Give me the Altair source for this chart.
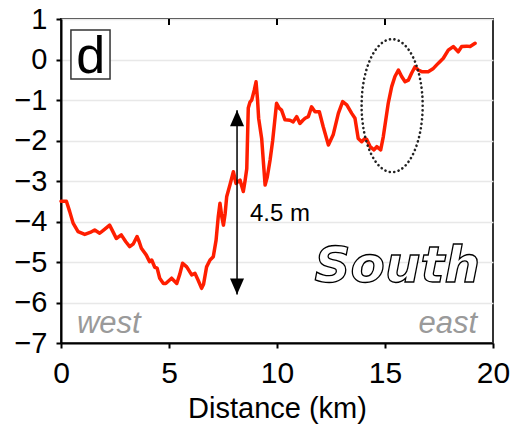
import altair as alt
import pandas as pd

# ---- profile data (distance km, elevation m) ----
dist_km = [0.0, 0.25, 0.4, 0.56, 0.79, 1.1, 1.35, 1.56, 1.79, 2.0, 2.25, 2.45, 2.56, 2.79, 3.0,
           3.18, 3.35, 3.52, 3.62, 3.72, 3.95, 4.1, 4.2, 4.34, 4.45, 4.57, 4.74, 4.85, 5.12, 5.36,
           5.5, 5.63, 5.82, 6.05, 6.2, 6.35, 6.51, 6.6, 6.74, 6.9, 7.05, 7.18, 7.28, 7.36, 7.45,
           7.52, 7.6, 7.67, 7.82, 7.98, 8.1, 8.29, 8.44, 8.52, 8.6, 8.67, 8.75, 8.83, 8.95, 9.03,
           9.1, 9.15, 9.29, 9.38, 9.45, 9.55, 9.68, 9.8, 9.9, 9.98, 10.1, 10.21, 10.37, 10.6, 10.75,
           10.91, 11.06, 11.2, 11.3, 11.45, 11.6, 11.76, 11.96, 12.14, 12.38, 12.6, 12.84, 13.04,
           13.23, 13.46, 13.61, 13.76, 13.92, 14.07, 14.15, 14.31, 14.49, 14.62, 14.8, 14.92, 15.15,
           15.31, 15.46, 15.62, 15.77, 15.93, 16.08, 16.23, 16.39, 16.54, 16.7, 17.0, 17.24, 17.47,
           17.7, 17.93, 18.16, 18.39, 18.55, 18.78, 18.94, 19.17]
elev_m = [-3.5, -3.5, -3.75, -4.04, -4.25, -4.32, -4.27, -4.21, -4.29, -4.2, -4.09, -4.3, -4.42,
          -4.33, -4.5, -4.62, -4.55, -4.37, -4.5, -4.66, -4.83, -4.99, -4.95, -5.13, -5.15, -5.4,
          -5.53, -5.53, -5.4, -5.53, -5.3, -5.03, -5.12, -5.32, -5.28, -5.45, -5.65, -5.55, -5.12,
          -4.95, -4.87, -4.46, -3.88, -3.55, -3.9, -4.09, -3.8, -3.39, -3.1, -2.77, -3.06, -2.98,
          -3.26, -3.0, -2.7, -1.2, -1.05, -1.0, -0.75, -0.55, -1.0, -1.45, -1.95, -2.6, -3.1, -2.9,
          -2.48, -2.0, -1.49, -1.08, -1.2, -1.25, -1.49, -1.5, -1.54, -1.41, -1.58, -1.5, -1.45,
          -1.41, -1.17, -1.29, -1.29, -1.66, -2.11, -1.86, -1.33, -1.04, -1.12, -1.33, -1.45, -1.95,
          -2.03, -1.95, -1.97, -2.15, -2.23, -2.15, -2.23, -1.91, -1.08, -0.67, -0.42, -0.26, -0.42,
          -0.55, -0.51, -0.34, -0.18, -0.26, -0.3, -0.3, -0.22, -0.09, 0.03, 0.23, 0.32, 0.19, 0.32,
          0.33, 0.32, 0.4]

x_ticks = [0, 5, 10, 15, 20]
y_ticks = [-7, -6, -5, -4, -3, -2, -1, 0, 1]
top_ticks = [5, 10, 15]

# annotations
arrow_x = [8.15]
arrow_top = [-1.25]
arrow_bottom = [-5.8]
arrow_label = ["4.5 m"]
arrow_label_pos = [8.75, -3.81]
ellipse_center = [15.33, -1.14]
panel_box = [0.46, 2.27, 0.73, -0.48]   # x, x2, y, y2
panel_letter = ["d"]
panel_letter_pos = [1.37, -0.33]
region_label = ["South"]
region_label_pos = [19.4, -5.49]
side_labels = ["west", "east"]
side_label_x = [0.74, 19.26]
side_label_y = [-6.75, -6.75]

df = pd.DataFrame({"d": dist_km, "z": elev_m})

xs = alt.Scale(domain=[0, 20], nice=False, zero=False)
ys = alt.Scale(domain=[-7, 1], nice=False, zero=False)
FONT = "Liberation Sans"

xaxis = alt.Axis(values=x_ticks, title="Distance (km)", grid=False, labelFontSize=30,
                 labelFont=FONT, labelColor="black", labelPadding=10, tickSize=5,
                 tickColor="black", tickWidth=2, domainColor="black", domainWidth=2,
                 titleFont=FONT, titleFontSize=29, titleFontWeight="normal",
                 titleColor="black", titlePadding=6, labelFlush=False)
yaxis = alt.Axis(values=y_ticks, title=None, grid=True, gridColor="#e8e8e8", gridWidth=1.5,
                 labelFontSize=29, labelFont=FONT, labelColor="black", labelPadding=9,
                 tickSize=5, tickColor="black", tickWidth=2, domainColor="black",
                 domainWidth=2, labelFlush=False)


def X(field):
    return alt.X(field, type="quantitative", scale=xs, axis=xaxis)


def Y(field):
    return alt.Y(field, type="quantitative", scale=ys, axis=yaxis)


line = alt.Chart(df).mark_line(color="#ff1e00", strokeWidth=3.5, strokeJoin="round",
                               strokeCap="round").encode(x=X("d"), y=Y("z"))

top_df = pd.DataFrame({"d": top_ticks})
topt = alt.Chart(top_df).mark_rule(color="black", strokeWidth=2).encode(
    x=X("d"), y=alt.value(0), y2=alt.value(6))

box_df = pd.DataFrame({"d": [panel_box[0]], "d2": [panel_box[1]],
                       "z": [panel_box[2]], "z2": [panel_box[3]]})
box = alt.Chart(box_df).mark_rect(fill="white", stroke="#333333", strokeWidth=1.5).encode(
    x=X("d"), x2="d2", y=Y("z"), y2="z2")

letter_df = pd.DataFrame({"d": [panel_letter_pos[0]], "z": [panel_letter_pos[1]],
                          "t": panel_letter})
letter = alt.Chart(letter_df).mark_text(font=FONT, fontSize=52, color="black",
                                        align="center", baseline="alphabetic").encode(
    x=X("d"), y=Y("z"), text="t")

arr_df = pd.DataFrame({"d": arrow_x, "z": arrow_top, "z2": arrow_bottom})
shaft = alt.Chart(arr_df).mark_rule(color="black", strokeWidth=1.5).encode(
    x=X("d"), y=Y("z"), y2="z2")
head_up = alt.Chart(arr_df).mark_point(
    shape="M 0 -1 L 0.875 1 L -0.875 1 Z", size=256, filled=True, color="black",
    opacity=1, yOffset=8).encode(x=X("d"), y=Y("z"))
head_dn = alt.Chart(arr_df).mark_point(
    shape="M 0 1 L 0.875 -1 L -0.875 -1 Z", size=256, filled=True, color="black",
    opacity=1, yOffset=-8).encode(x=X("d"), y=alt.Y("z2:Q", scale=ys, axis=yaxis))

lab_df = pd.DataFrame({"d": [arrow_label_pos[0]], "z": [arrow_label_pos[1]],
                       "t": arrow_label})
lab = alt.Chart(lab_df).mark_text(font=FONT, fontSize=24, color="black", align="left",
                                  baseline="middle").encode(x=X("d"), y=Y("z"), text="t")

ell_df = pd.DataFrame({"d": [ellipse_center[0]], "z": [ellipse_center[1]]})
ell = alt.Chart(ell_df).mark_point(
    shape="M -0.459 0 A 0.459 1 0 1 1 0.459 0 A 0.459 1 0 1 1 -0.459 0 Z",
    size=17689, filled=False, color="#222222", opacity=1, strokeWidth=2.6,
    strokeDash=[0.1, 4.4], strokeCap="round").encode(x=X("d"), y=Y("z"))

south_df = pd.DataFrame({"d": [region_label_pos[0]], "z": [region_label_pos[1]],
                         "t": region_label})
south = alt.Chart(south_df).mark_text(font="DejaVu Sans", fontSize=50, fontWeight="bold",
                                      fontStyle="italic", fill="white", stroke="black",
                                      strokeWidth=1.3, align="right",
                                      baseline="alphabetic").encode(
    x=X("d"), y=Y("z"), text="t")

side_df = pd.DataFrame({"d": side_label_x, "z": side_label_y, "t": side_labels})
west = alt.Chart(side_df.iloc[[0]]).mark_text(font=FONT, fontSize=31, fontStyle="italic",
                                              color="#9a9a9a", align="left",
                                              baseline="alphabetic").encode(
    x=X("d"), y=Y("z"), text="t")
east = alt.Chart(side_df.iloc[[1]]).mark_text(font=FONT, fontSize=31, fontStyle="italic",
                                              color="#9a9a9a", align="right",
                                              baseline="alphabetic").encode(
    x=X("d"), y=Y("z"), text="t")

chart = alt.layer(line, box, letter, shaft, head_up, head_dn, lab, ell, south, west, east,
                  topt).properties(
    width=432, height=324,
    autosize=alt.AutoSizeParams(type="none"),
    padding={"left": 61, "top": 19, "right": 20, "bottom": 92},
    background="white",
).configure_view(stroke="#333333", strokeWidth=2)

chart.save("out.html", embed_options={"renderer": "svg", "actions": False})
